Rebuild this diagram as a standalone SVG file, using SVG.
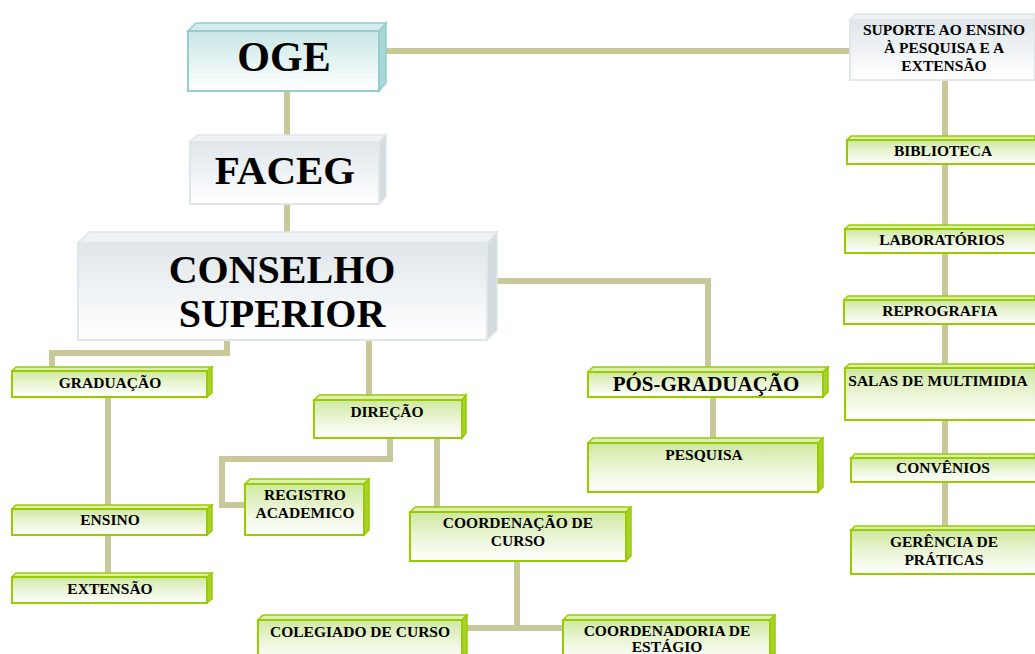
<svg xmlns="http://www.w3.org/2000/svg" width="1035" height="654" viewBox="0 0 1035 654">
<defs>
<linearGradient id="gTeal" x1="0" y1="0" x2="0" y2="1"><stop offset="0" stop-color="#c9e6e6"/><stop offset="1" stop-color="#ffffff"/></linearGradient>
<linearGradient id="gGray" x1="0" y1="0" x2="0" y2="1"><stop offset="0" stop-color="#dfe6ea"/><stop offset="1" stop-color="#ffffff"/></linearGradient>
<linearGradient id="gGreen" x1="0" y1="0" x2="0" y2="1"><stop offset="0" stop-color="#cfe8a0"/><stop offset="0.5" stop-color="#eaf5d6"/><stop offset="1" stop-color="#ffffff"/></linearGradient>
<style>
.c{stroke:#c8c89a;stroke-width:6;fill:none}
.gf{fill:url(#gGreen);stroke:#99cc00;stroke-width:2}
.gt{fill:#dcefb0;stroke:#99cc00;stroke-width:1.5}
.gs{fill:#a6d22a;stroke:#99cc00;stroke-width:1.5}
.tf{fill:url(#gTeal);stroke:#96cccc;stroke-width:2}
.tt{fill:#d4ecec;stroke:#96cccc;stroke-width:1.5}
.ts{fill:#a9d6d6;stroke:#96cccc;stroke-width:1.5}
.wf{fill:url(#gGray);stroke:#e0e6ea;stroke-width:2}
.wt{fill:#eef2f4;stroke:#e0e6ea;stroke-width:1.5}
.ws{fill:#d4dcdf;stroke:#e0e6ea;stroke-width:1.5}
text{font-family:"Liberation Serif","Times New Roman",serif;font-weight:bold;fill:#000;text-anchor:middle}
.s{font-size:15.5px}
.b{font-size:40px}
</style>
</defs>
<g id="connectors">
<path class="c" d="M370 51 H852"/>
<path class="c" d="M287 90 V142"/>
<path class="c" d="M287 204 V240"/>
<path class="c" d="M486 281 H708 V372"/>
<path class="c" d="M227 340 V353 H52 V371"/>
<path class="c" d="M369 340 V398"/>
<path class="c" d="M108 397 V509 M108 535 V577"/>
<path class="c" d="M390 437 V459 H222 V505 H246"/>
<path class="c" d="M437 437 V510"/>
<path class="c" d="M517 561 V628 M466 628 H565"/>
<path class="c" d="M713 397 V439"/>
<path class="c" d="M945 80 V528"/>
</g>
<g id="oge">
<polygon class="tt" points="188,31 196,23 386,23 379,31"/>
<polygon class="ts" points="379,31 386,23 386,83 379,91"/>
<rect class="tf" x="188" y="31" width="191" height="60"/>
<text x="284" y="71" style="font-size:42px">OGE</text>
</g>
<g id="faceg">
<polygon class="wt" points="190,142 197,135 386,135 379,142"/>
<polygon class="ws" points="379,142 386,135 386,197 379,204"/>
<rect class="wf" x="190" y="142" width="189" height="62"/>
<text x="285" y="184" style="font-size:41px">FACEG</text>
</g>
<g id="conselho">
<polygon class="wt" points="78,243 89,232 497,232 487,243"/>
<polygon class="ws" points="487,243 497,232 497,330 487,340"/>
<rect class="wf" x="78" y="243" width="409" height="97"/>
<text x="282" y="283" class="b">CONSELHO</text>
<text x="282" y="327" class="b">SUPERIOR</text>
</g>
<g id="suporte">
<polygon class="wt" points="850,20 856,14 1035,14 1035,20"/>
<rect class="wf" x="850" y="20" width="185" height="60"/>
<text x="944" y="35" class="s">SUPORTE AO ENSINO</text>
<text x="944" y="53" class="s">À PESQUISA E A</text>
<text x="944" y="71" class="s">EXTENSÃO</text>
</g>
<g id="graduacao">
<polygon class="gt" points="12,371 16,367 212,367 207,371"/>
<polygon class="gs" points="207,371 212,367 212,393 207,397"/>
<rect class="gf" x="12" y="371" width="195" height="26"/>
<text x="110" y="388" class="s">GRADUAÇÃO</text>
</g>
<g id="ensino">
<polygon class="gt" points="12,509 16,505 212,505 207,509"/>
<polygon class="gs" points="207,509 212,505 212,531 207,535"/>
<rect class="gf" x="12" y="509" width="195" height="26"/>
<text x="110" y="525" class="s">ENSINO</text>
</g>
<g id="extensao">
<polygon class="gt" points="12,577 16,573 212,573 207,577"/>
<polygon class="gs" points="207,577 212,573 212,599 207,603"/>
<rect class="gf" x="12" y="577" width="195" height="26"/>
<text x="110" y="594" class="s">EXTENSÃO</text>
</g>
<g id="direcao">
<polygon class="gt" points="314,400 319,395 466,395 462,400"/>
<polygon class="gs" points="462,400 466,395 466,433 462,438"/>
<rect class="gf" x="314" y="400" width="148" height="38"/>
<text x="387" y="417" class="s">DIREÇÃO</text>
</g>
<g id="registro">
<polygon class="gt" points="245,484 250,479 369,479 364,484"/>
<polygon class="gs" points="364,484 369,479 369,530 364,535"/>
<rect class="gf" x="245" y="484" width="119" height="51"/>
<text x="305" y="500" class="s">REGISTRO</text>
<text x="305" y="518" class="s">ACADEMICO</text>
</g>
<g id="coordcurso">
<polygon class="gt" points="410,512 415,507 631,507 626,512"/>
<polygon class="gs" points="626,512 631,507 631,556 626,561"/>
<rect class="gf" x="410" y="512" width="216" height="49"/>
<text x="518" y="528" class="s">COORDENAÇÃO DE</text>
<text x="518" y="546" class="s">CURSO</text>
</g>
<g id="colegiado">
<polygon class="gt" points="258,620 263,615 467,615 462,620"/>
<polygon class="gs" points="462,620 467,615 467,654 462,654"/>
<rect class="gf" x="258" y="620" width="204" height="40"/>
<text x="360" y="637" class="s">COLEGIADO DE CURSO</text>
</g>
<g id="coordestagio">
<polygon class="gt" points="563,620 568,615 775,615 770,620"/>
<polygon class="gs" points="770,620 775,615 775,654 770,654"/>
<rect class="gf" x="563" y="620" width="207" height="40"/>
<text x="667" y="636" class="s">COORDENADORIA DE</text>
<text x="667" y="652" class="s">ESTÁGIO</text>
</g>
<g id="posgrad">
<polygon class="gt" points="588,372 593,367 828,367 823,372"/>
<polygon class="gs" points="823,372 828,367 828,392 823,397"/>
<rect class="gf" x="588" y="372" width="235" height="25"/>
<text x="706" y="391" style="font-size:21px">PÓS-GRADUAÇÃO</text>
</g>
<g id="pesquisa">
<polygon class="gt" points="588,443 593,438 823,438 818,443"/>
<polygon class="gs" points="818,443 823,438 823,487 818,492"/>
<rect class="gf" x="588" y="443" width="230" height="49"/>
<text x="704" y="460" class="s">PESQUISA</text>
</g>
<g id="biblioteca">
<polygon class="gt" points="847,140 851,136 1035,136 1035,140"/>
<rect class="gf" x="847" y="140" width="190" height="24"/>
<text x="943" y="156" class="s">BIBLIOTECA</text>
</g>
<g id="laboratorios">
<polygon class="gt" points="845,229 849,225 1035,225 1035,229"/>
<rect class="gf" x="845" y="229" width="192" height="24"/>
<text x="942" y="245" class="s">LABORATÓRIOS</text>
</g>
<g id="reprografia">
<polygon class="gt" points="844,300 848,296 1035,296 1035,300"/>
<rect class="gf" x="844" y="300" width="193" height="24"/>
<text x="940" y="316" class="s">REPROGRAFIA</text>
</g>
<g id="salas">
<polygon class="gt" points="845,368 849,364 1035,364 1035,368"/>
<rect class="gf" x="845" y="368" width="192" height="52"/>
<text x="938" y="386" class="s">SALAS DE MULTIMIDIA</text>
</g>
<g id="convenios">
<polygon class="gt" points="851,458 855,454 1035,454 1035,458"/>
<rect class="gf" x="851" y="458" width="186" height="24"/>
<text x="943" y="473" class="s">CONVÊNIOS</text>
</g>
<g id="gerencia">
<polygon class="gt" points="851,530 855,526 1035,526 1035,530"/>
<rect class="gf" x="851" y="530" width="186" height="44"/>
<text x="944" y="547" class="s">GERÊNCIA DE</text>
<text x="944" y="565" class="s">PRÁTICAS</text>
</g>
</svg>
